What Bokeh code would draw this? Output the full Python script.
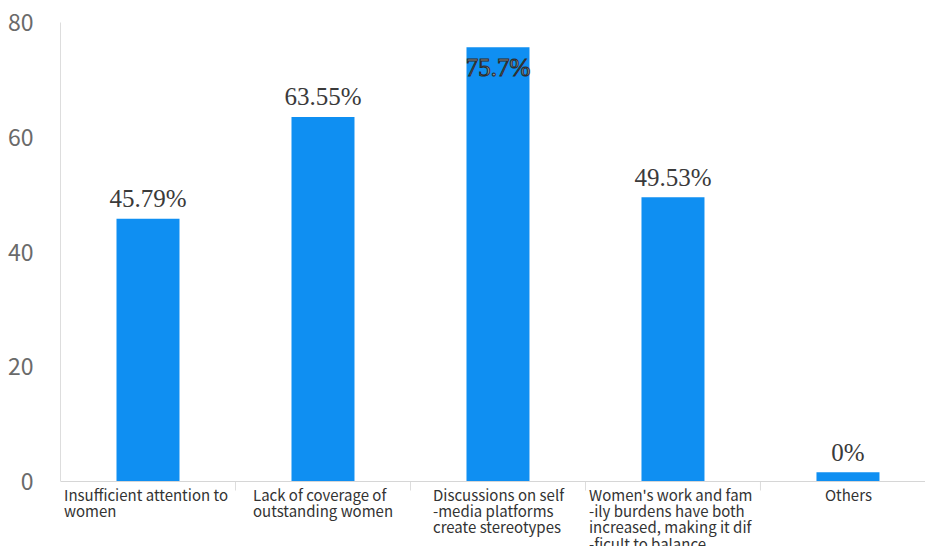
from bokeh.plotting import figure
from bokeh.models import ColumnDataSource, Range1d, FixedTicker, Span
from bokeh.core.properties import value
from bokeh.embed import file_html
from bokeh.resources import INLINE

categories = [
    "Insufficient attention to\nwomen",
    "Lack of coverage of\noutstanding women",
    "Discussions on self\n-media platforms\ncreate stereotypes",
    "Women's work and fam\n-ily burdens have both\nincreased, making it dif\n-ficult to balance\u2026",
    "Others",
]
values = [45.79, 63.55, 75.7, 49.53, 0]
bar_heights = [45.79, 63.55, 75.7, 49.53, 1.6]
value_labels = ["45.79%", "63.55%", "75.7%", "49.53%", "0%"]
y_ticks = [0, 20, 40, 60, 80]

idx = list(range(len(categories)))
label_offsets = [-84, -70, -65, -84, -23]

Y_MIN, Y_MAX = 0, 80
below_px, frame_top, axis_px = 65, 22, 459
y_start = -below_px * (Y_MAX - Y_MIN) / axis_px

p = figure(width=925, height=546, output_backend="svg", toolbar_location=None,
           x_range=Range1d(-0.5, 4.443), y_range=Range1d(y_start, Y_MAX),
           x_axis_location=None,
           min_border_left=60, min_border_right=0, min_border_top=frame_top, min_border_bottom=0)
p.outline_line_color = None
p.xgrid.grid_line_color = None
p.ygrid.grid_line_color = None
p.background_fill_color = "white"
p.border_fill_color = "white"

src = ColumnDataSource(dict(x=idx, top=bar_heights, lab=value_labels, v=values))
p.vbar(x="x", top="top", width=0.36, bottom=0, source=src, fill_color="#0f8ff2", line_color=None)

# x axis baseline and category separators
p.add_layout(Span(location=0, dimension="width", line_color="#d6d6d6", line_width=1))
seps = [i + 0.5 for i in idx[:-1]]
p.segment(x0=seps, x1=seps, y0=[0] * len(seps), y1=[-9 * Y_MAX / axis_px] * len(seps),
          line_color="#dddddd", line_width=1)

# value labels: above bar, except the tallest which sits inside the bar
out_i = [i for i, v in enumerate(values) if v < 70]
in_i = [i for i, v in enumerate(values) if v >= 70]
src_out = ColumnDataSource(dict(x=[idx[i] for i in out_i], y=[bar_heights[i] for i in out_i],
                                t=[value_labels[i] for i in out_i]))
src_in = ColumnDataSource(dict(x=[idx[i] for i in in_i], y=[bar_heights[i] for i in in_i],
                               t=[value_labels[i] for i in in_i]))
p.text(x="x", y="y", text="t", source=src_out, text_align="center", text_baseline="alphabetic",
       y_offset=-20, text_font=value("Liberation Serif"), text_font_size="25px", text_color="#3a3a3a")
p.text(x="x", y="y", text="t", source=src_in, text_align="center", text_baseline="alphabetic",
       y_offset=20, text_font=value("Liberation Serif"), text_font_size="25px", text_color="#9a9a9a",
       text_outline_color="#2a2a2a")

# category labels
cat_src = ColumnDataSource(dict(x=idx, y=[0] * len(idx), t=categories, xo=label_offsets))
p.text(x="x", y="y", text="t", x_offset="xo", y_offset=2, source=cat_src,
       text_align="left", text_baseline="top", text_font=value("Noto Sans CJK SC"),
       text_font_size="15px", text_color="#333333", text_line_height=0.78)

# y axis
p.yaxis.ticker = FixedTicker(ticks=y_ticks)
p.yaxis.bounds = (Y_MIN, Y_MAX)
p.yaxis.major_tick_line_color = None
p.yaxis.minor_tick_line_color = None
p.yaxis.axis_line_color = "#dddddd"
p.yaxis.major_label_text_font = "Noto Sans CJK SC"
p.yaxis.major_label_text_font_size = "23px"
p.yaxis.major_label_text_color = "#6a6a6a"
p.yaxis.major_label_standoff = 21

open("out.html", "w").write(file_html(p, INLINE))
